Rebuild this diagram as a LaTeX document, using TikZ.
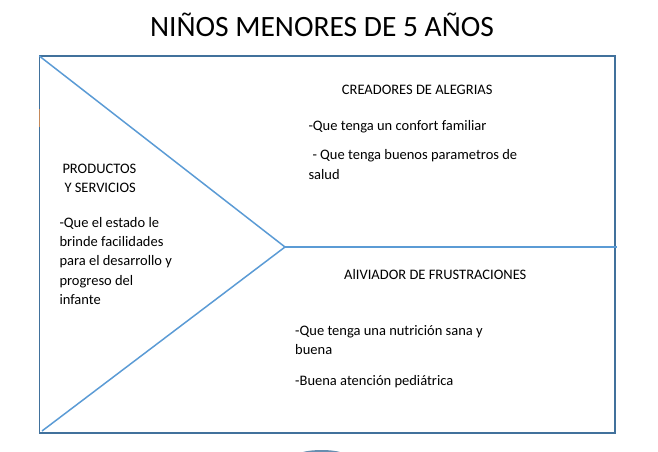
\documentclass[tikz,border=0pt]{standalone}
\usepackage{fontspec}
\setmainfont{Carlito}
\definecolor{boxline}{HTML}{41719C}
\definecolor{diagline}{HTML}{5B9BD5}
\definecolor{tickorange}{HTML}{C5895A}
\begin{document}
\begin{tikzpicture}[x=1pt,y=-1pt,
  txt/.style={anchor=base west,inner sep=0pt,font=\fontsize{14.5}{19}\selectfont},
  ttl/.style={anchor=base,inner sep=0pt,font=\fontsize{29.5}{34}\selectfont},
  frame/.style={draw=boxline,line width=1.2pt},
  diag/.style={draw=diagline,line width=1.5pt}]
\useasboundingbox (0,0) rectangle (658,452);
% title
\node[ttl] (title) at (322,36.7) {NIÑOS MENORES DE 5 AÑOS};
% frame
\coordinate (tl) at (39.3,56);
\coordinate (br) at (615,433);
\coordinate (apex) at (285,247);
\coordinate (bl) at (42,431);
\coordinate (re) at (617,247);
\draw[frame] (tl) rectangle (br);
\draw[draw=tickorange,line width=1.2pt] (39.3,109) -- (39.3,127);
\draw[diag] (tl) -- (apex) -- (bl);
\draw[diag] (apex) -- (re);
% bottom smudge
\begin{scope}
\clip (290,449) rectangle (355,452);
\fill[boxline!80!white] (321.5,455) ellipse (23 and 5);
\end{scope}
% left texts
\node[txt] (p1) at (62.3,173.7) {PRODUCTOS};
\node[txt] (p2) at (64.3,192.7) {Y SERVICIOS};
\node[txt] (p3) at (59.3,227.5) {-Que el estado le};
\node[txt] (p4) at (59.3,246.7) {brinde facilidades};
\node[txt] (p5) at (59.3,265.7) {para el desarrollo y};
\node[txt] (p6) at (59.3,285) {progreso del};
\node[txt] (p7) at (59.3,304) {infante};
% upper right
\node[txt] (c1) at (341.7,94.7) {CREADORES DE ALEGRIAS};
\node[txt] (c2) at (308.3,130.5) {-Que tenga un confort familiar};
\node[txt] (c3) at (312.3,159) {- Que tenga buenos parametros de};
\node[txt] (c4) at (308.3,179) {salud};
% lower right
\node[txt] (a1) at (344,279) {AlIVIADOR DE FRUSTRACIONES};
\node[txt] (a2) at (295,335.5) {-Que tenga una nutrición sana y};
\node[txt] (a3) at (295,354) {buena};
\node[txt] (a4) at (295,385.5) {-Buena atención pediátrica};
\end{tikzpicture}
\end{document}
